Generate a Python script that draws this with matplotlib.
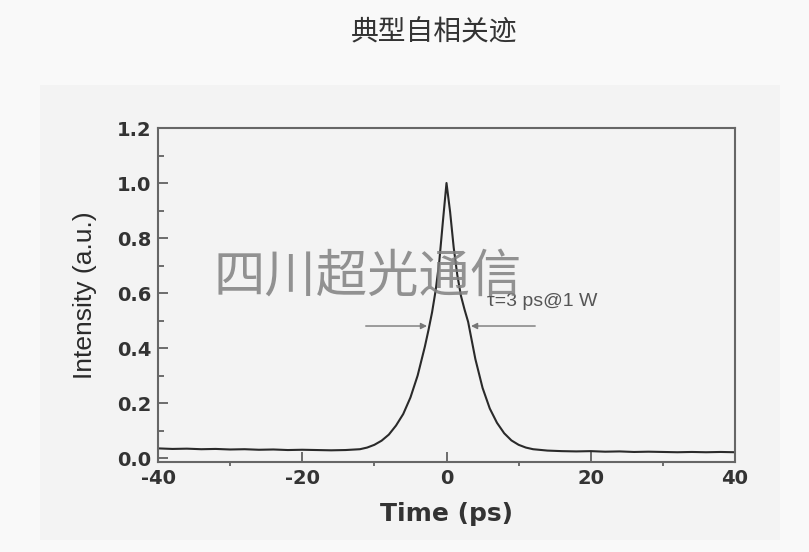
import matplotlib
matplotlib.use('Agg')
import matplotlib.pyplot as plt
from matplotlib.patches import Rectangle
from matplotlib.ticker import MultipleLocator

plt.rcParams['axes.unicode_minus'] = False

# Datos (autocorrelación)
tiempo = [-40, -38, -36, -34, -32, -30, -28, -26, -24, -22, -20, -18, -16, -14,
          -12, -11, -10, -9, -8, -7, -6, -5, -4, -3, -2.5, -2, -1.5, -1, -0.5,
          0, 0.5, 1, 1.5, 2, 2.5, 3, 4, 5, 6, 7, 8, 9, 10, 11, 12,
          14, 16, 18, 20, 22, 24, 26, 28, 30, 32, 34, 36, 38, 40]
intensidad = [0.035, 0.033, 0.034, 0.032, 0.033, 0.031, 0.032, 0.030, 0.031, 0.029, 0.030, 0.029, 0.028, 0.029,
              0.032, 0.038, 0.048, 0.063, 0.085, 0.118, 0.160, 0.220, 0.300, 0.405, 0.465, 0.530, 0.610, 0.715, 0.860,
              1.000, 0.895, 0.765, 0.665, 0.590, 0.540, 0.495, 0.360, 0.255, 0.180, 0.128, 0.090, 0.064, 0.048, 0.038, 0.032,
              0.027, 0.025, 0.024, 0.025, 0.023, 0.024, 0.022, 0.023, 0.022, 0.021, 0.022, 0.021, 0.022, 0.021]

titulo = '典型自相关迹'
marca_agua = '四川超光通信'
anotacion = 'τ=3 ps@1 W'

fig = plt.figure(figsize=(8.09, 5.52), dpi=100, facecolor='#f9f9f9')

# Panel de fondo
panel = Rectangle((40 / 809, 1 - 540 / 552), 740 / 809, 455 / 552,
                  transform=fig.transFigure, facecolor='#f3f3f3',
                  edgecolor='none', zorder=-10)
fig.add_artist(panel)

fig.text(434 / 809, 1 - 32 / 552, titulo, ha='center', va='center',
         fontsize=20, color='#333333', family=['Noto Sans CJK SC', 'DejaVu Sans'])

ax = fig.add_axes([158 / 809, 1 - 462 / 552, 577 / 809, 334 / 552])
ax.set_facecolor('#f3f3f3')
ax.plot(tiempo, intensidad, color='#2a2a2a', lw=1.5)

ax.set_xlim(-40, 40)
ax.set_ylim(-0.0145, 1.2)
ax.xaxis.set_major_locator(MultipleLocator(20))
ax.xaxis.set_minor_locator(MultipleLocator(10))
ax.yaxis.set_minor_locator(MultipleLocator(0.1))
ax.set_yticks([0.0, 0.2, 0.4, 0.6, 0.8, 1.0, 1.2])
ax.set_yticklabels(['0.0', '0.2', '0.4', '0.6', '0.8', '1.0', '1.2'])

for s in ax.spines.values():
    s.set_color('#666666')
    s.set_linewidth(1.5)

ax.tick_params(axis='x', which='major', direction='in', length=7, width=1.2, color='#555555')
ax.tick_params(axis='x', which='minor', direction='out', length=3, width=1.2, color='#555555')
ax.tick_params(axis='y', which='major', direction='in', length=7, width=1.2, color='#555555')
ax.tick_params(axis='y', which='minor', direction='in', length=4, width=1.2, color='#555555')
ax.tick_params(axis='both', labelsize=14, labelcolor='#333333', pad=5)
for lab in ax.get_xticklabels() + ax.get_yticklabels():
    lab.set_fontweight('bold')
    lab.set_family('DejaVu Sans')

ax.set_xlabel('Time (ps)', fontsize=18, fontweight='bold', color='#333333',
              family='DejaVu Sans', labelpad=10)
ax.set_ylabel('Intensity (a.u.)', fontsize=19, color='#2a2a2a',
              family='Liberation Sans', labelpad=14)

# Flechas del ancho a media altura
ax.annotate('', xy=(-2.7, 0.48), xytext=(-11.2, 0.48),
            arrowprops=dict(arrowstyle='-|>', color='#777777', lw=1.0,
                            mutation_scale=9, shrinkA=0, shrinkB=0))
ax.annotate('', xy=(3.4, 0.48), xytext=(12.3, 0.48),
            arrowprops=dict(arrowstyle='-|>', color='#777777', lw=1.0,
                            mutation_scale=9, shrinkA=0, shrinkB=0))
ax.text(5.6, 0.57, anotacion, fontsize=14, color='#555555',
        family='Liberation Sans', ha='left', va='center')

# Marca de agua
ax.text(-11, 0.66, marca_agua, fontsize=37, color='#808080', alpha=0.85,
        family=['Noto Sans CJK SC', 'DejaVu Sans'], ha='center', va='center')

fig.savefig('out.png', dpi=100, facecolor=fig.get_facecolor())
